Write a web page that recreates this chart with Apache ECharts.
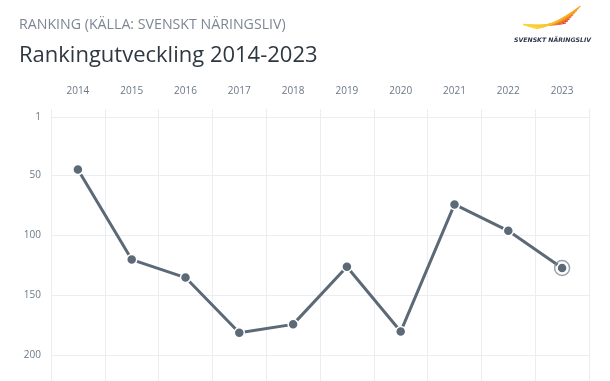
<!DOCTYPE html>
<html><head><meta charset="utf-8">
<script src="https://cdn.jsdelivr.net/npm/echarts@6/dist/echarts.min.js"></script>
<style>html,body{margin:0;padding:0;background:#fff}#c{width:610px;height:381px}</style>
</head><body><div id="c"></div>
<script>
const years = ['2014','2015','2016','2017','2018','2019','2020','2021','2022','2023'];
const ranking = [45, 120, 135, 181, 174, 126, 180, 74, 96, 127];
const yTicks = [1, 50, 100, 150, 200];
const highlightYear = '2023';
const highlightValue = 127;

const chart = echarts.init(document.getElementById('c'));
const endColors = ['#d9232b','#dd2c28','#e23a24','#e94f20','#ee661d','#f27a1c','#f48a1d','#f5981f','#f6a521'];
const swoosh = endColors.map((c, i) => ({
  type: 'bezierCurve',
  shape: { x1: 523 + i * 1.6, y1: 24.5 + i * 0.5, cpx1: 552, cpy1: 27, x2: 566 + i * 1.8, y2: 23 - i * 2.1 },
  style: { fill: null, lineWidth: 1.3,
    stroke: { type: 'linear', x: 0, y: 0, x2: 1, y2: 0,
      colorStops: [{ offset: 0, color: '#fcd93a' }, { offset: 0.45, color: '#f8b92a' }, { offset: 1, color: c }] } },
  silent: true
}));

chart.setOption({
  animation: false,
  textStyle: { fontFamily: 'Open Sans' },
  title: [
    { text: 'RANKING (KÄLLA: SVENSKT NÄRINGSLIV)', left: 14, top: 13,
      textStyle: { fontFamily: 'Open Sans', fontSize: 14.2, fontWeight: 'normal', color: '#7d8794' } },
    { text: 'Rankingutveckling 2014-2023', left: 14, top: 40,
      textStyle: { fontFamily: 'Open Sans', fontSize: 22, fontWeight: 'normal', color: '#2e3842' } }
  ],
  graphic: [
    ...swoosh,
    { type: 'text', left: 514, top: 37, silent: true,
      style: { text: 'SVENSKT NÄRINGSLIV', font: 'italic bold 6.2px "DejaVu Sans"', fill: '#2f3a50' } }
  ],
  grid: { left: 51, right: 21, top: 109, bottom: 0 },
  xAxis: {
    type: 'category', position: 'top', data: years, boundaryGap: true,
    axisLine: { show: false }, axisTick: { show: false },
    axisLabel: { color: '#6b7785', fontSize: 10, margin: 13 },
    splitLine: { show: true, lineStyle: { color: '#ebedf0', width: 1 } }
  },
  yAxis: {
    type: 'value', inverse: true, min: -5.5, max: 221.2,
    axisLine: { show: false }, axisTick: { show: false, customValues: yTicks },
    axisLabel: { color: '#6b7785', fontSize: 10, margin: 10, customValues: yTicks },
    splitLine: { show: true, lineStyle: { color: '#ebedf0', width: 1 } }
  },
  series: [
    { type: 'line', data: ranking, lineStyle: { color: '#5c6977', width: 3 },
      symbol: 'circle', symbolSize: 10,
      itemStyle: { color: '#5c6977', borderColor: '#fff', borderWidth: 1.5 }, z: 3 },
    { type: 'scatter', data: [[highlightYear, highlightValue]], symbol: 'circle', symbolSize: 15,
      itemStyle: { color: 'rgba(0,0,0,0)', borderColor: '#7f8a96', borderWidth: 1.5 }, z: 4 }
  ]
});
</script></body></html>
